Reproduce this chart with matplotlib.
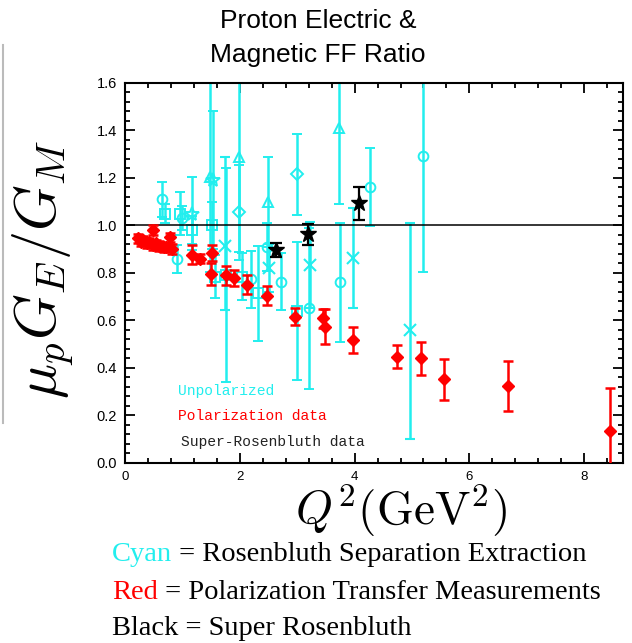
import matplotlib
matplotlib.use("Agg")
import matplotlib.pyplot as plt
from matplotlib.ticker import MultipleLocator, FormatStrFormatter
from matplotlib.lines import Line2D

plt.rcParams["mathtext.fontset"] = "cm"

# Polarization transfer data (red)
red_q2 = [0.22, 0.28, 0.32, 0.38, 0.42, 0.48, 0.53, 0.59, 0.67, 0.72, 0.81, 0.49, 0.78,
          1.16, 1.31, 1.51, 1.49, 1.75, 1.89, 2.12, 2.47, 2.96, 3.45, 3.48, 3.97,
          4.74, 5.15, 5.55, 6.68, 8.45]
red_ratio = [0.946, 0.932, 0.939, 0.925, 0.932, 0.918, 0.925, 0.914, 0.908, 0.908, 0.900, 0.981, 0.950,
             0.876, 0.860, 0.884, 0.796, 0.790, 0.778, 0.750, 0.703, 0.616, 0.609, 0.574, 0.516,
             0.448, 0.441, 0.352, 0.324, 0.135]
red_err = [0.02, 0.02, 0.015, 0.02, 0.015, 0.02, 0.015, 0.02, 0.02, 0.015, 0.02, 0.02, 0.02,
           0.04, 0.02, 0.035, 0.045, 0.04, 0.035, 0.04, 0.04, 0.035, 0.04, 0.075, 0.055,
           0.05, 0.07, 0.085, 0.105, 0.18]

# Super-Rosenbluth (black)
sr_q2 = [2.63, 3.19, 4.07]
sr_ratio = [0.897, 0.962, 1.093]
sr_err = [0.03, 0.045, 0.07]

# Rosenbluth separation (cyan), one list per marker
circ_q2 = [0.64, 0.90, 0.99, 2.20, 2.48, 2.72, 3.20, 3.75, 4.27, 5.19]
circ_ratio = [1.11, 0.858, 1.03, 0.773, 0.91, 0.763, 0.651, 0.76, 1.163, 1.293]
circ_err = [0.075, 0.058, 0.05, 0.12, 0.1, 0.12, 0.34, 0.25, 0.165, 0.49]

sq_q2 = [0.69, 0.96, 1.16, 1.51, 1.57, 1.75, 2.03, 2.32, 2.99]
sq_ratio = [1.05, 1.05, 0.98, 1.0, 0.785, 0.79, 0.785, 0.714, 0.64]
sq_err = [0.04, 0.09, 0.06, 0.1, 0.09, 0.45, 0.1, 0.2, 0.29]

star_q2 = [1.16, 1.54]
star_ratio = [1.05, 1.19]
star_err = [0.155, 0.29]

tri_q2 = [1.48, 1.99, 2.49, 3.73]
tri_ratio = [1.205, 1.29, 1.10, 1.41]
tri_err = [0.4, 0.4, 0.19, 0.32]

dia_q2 = [1.99, 2.99]
dia_ratio = [1.055, 1.215]
dia_err = [0.2, 0.17]

x_q2 = [1.74, 2.50, 3.22, 3.98, 4.97]
x_ratio = [0.915, 0.82, 0.834, 0.862, 0.56]
x_err_lo = [0.27, 0.1, 0.18, 0.21, 0.46]
x_err_hi = [0.375, 0.1, 0.18, 0.21, 0.45]

CYAN = "#22eeee"
RED = "#ff0000"

fig = plt.figure(figsize=(6.32, 6.43), dpi=100)
ax = fig.add_axes([0.198, 0.28, 0.788, 0.591])

cyan_sets = [
    (circ_q2, circ_ratio, circ_err, "o", 7),
    (sq_q2, sq_ratio, sq_err, "s", 6.5),
    (star_q2, star_ratio, star_err, "*", 10),
    (tri_q2, tri_ratio, tri_err, "^", 7.5),
    (dia_q2, dia_ratio, dia_err, "D", 6),
]
for q, r, e, m, ms in cyan_sets:
    ax.errorbar(q, r, yerr=e, fmt=m, color=CYAN, mfc="none", mec=CYAN, ms=ms,
                mew=1.4, elinewidth=1.8, capsize=3.8, capthick=1.8, zorder=2)
ax.errorbar(x_q2, x_ratio, yerr=[x_err_lo, x_err_hi], fmt="x", color=CYAN, ms=8,
            mew=1.5, elinewidth=1.8, capsize=3.8, capthick=1.8, zorder=2)

ax.axhline(1.0, color="black", lw=1.1, zorder=3)

ax.errorbar(red_q2, red_ratio, yerr=red_err, fmt="D", color=RED, ms=6,
            elinewidth=1.8, capsize=3.5, capthick=1.8, zorder=4)
ax.errorbar(sr_q2, sr_ratio, yerr=sr_err, fmt="*", color="black", ms=12,
            elinewidth=1.6, capsize=4, capthick=1.6, zorder=5)

ax.text(0.92, 0.286, "Unpolarized", color=CYAN, family="Liberation Mono", fontsize=10.5)
ax.text(0.92, 0.181, "Polarization data", color=RED, family="Liberation Mono", fontsize=10.5)
ax.text(0.98, 0.072, "Super-Rosenbluth data", color="#222222", family="Liberation Mono", fontsize=10.5)

ax.set_xlim(0, 8.68)
ax.set_ylim(0, 1.6)
ax.xaxis.set_major_locator(MultipleLocator(2))
ax.xaxis.set_minor_locator(MultipleLocator(0.4))
ax.yaxis.set_major_locator(MultipleLocator(0.2))
ax.yaxis.set_minor_locator(MultipleLocator(0.04))
ax.yaxis.set_major_formatter(FormatStrFormatter("%.1f"))
ax.tick_params(which="both", direction="in", top=True, right=True, width=1.3)
ax.tick_params(which="major", length=7)
ax.tick_params(which="minor", length=3.5)
ax.tick_params(axis="y", labelsize=10.5, pad=6)
ax.tick_params(axis="x", labelsize=9.5, pad=6)
for lab in ax.get_xticklabels() + ax.get_yticklabels():
    lab.set_family("Liberation Sans")
for s in ax.spines.values():
    s.set_linewidth(1.5)

ax.set_ylabel(r"$\mu_p G_E/G_M$", fontsize=42)
ax.yaxis.set_label_coords(-0.096, 0.51)
ax.set_xlabel(r"$Q^2(\mathrm{GeV}^2)$", fontsize=34)
ax.xaxis.set_label_coords(0.553, -0.052)

fig.text(0.503, 0.968, "Proton Electric &", ha="center", va="center",
         family="Liberation Sans", fontsize=19)
fig.text(0.503, 0.914, "Magnetic FF Ratio", ha="center", va="center",
         family="Liberation Sans", fontsize=19)

cap_fs = 20.5
cap_kw = dict(family="Liberation Serif", fontsize=cap_fs, va="center")
cap_y = [0.137, 0.079, 0.022]
t1 = fig.text(0.177, cap_y[0], "Cyan", color=CYAN, **cap_kw)
ax.annotate(" = Rosenbluth Separation Extraction", xy=(1, 0.5), xycoords=t1,
            va="center", ha="left", family="Liberation Serif", fontsize=cap_fs,
            annotation_clip=False)
t2 = fig.text(0.177, cap_y[1], "Red", color=RED, **cap_kw)
ax.annotate(" = Polarization Transfer Measurements", xy=(1, 0.5), xycoords=t2,
            va="center", ha="left", family="Liberation Serif", fontsize=cap_fs,
            annotation_clip=False)
fig.text(0.177, cap_y[2], "Black = Super Rosenbluth", **cap_kw)

fig.add_artist(Line2D([0.004, 0.004], [0.342, 0.93], transform=fig.transFigure,
                      color="#bbbbbb", lw=1.5))

fig.savefig("out.png", dpi=100)
